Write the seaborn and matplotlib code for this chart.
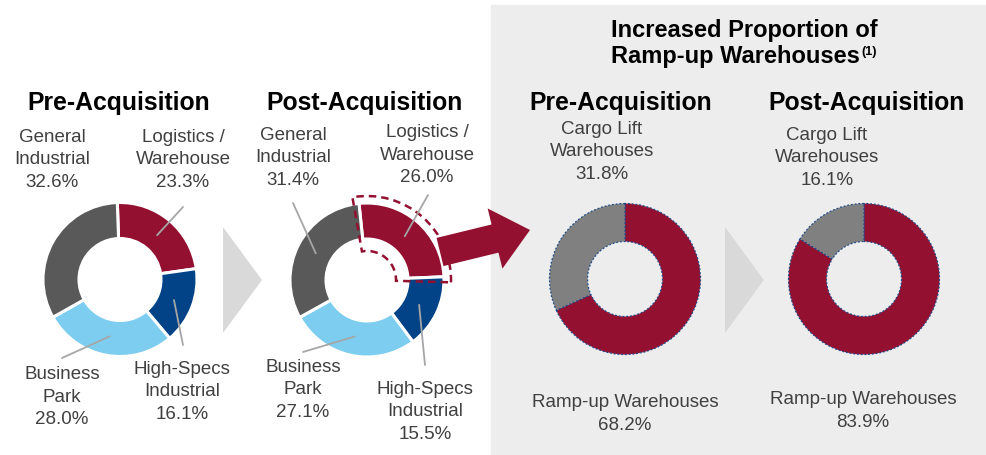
import numpy as np
import matplotlib
matplotlib.use("Agg")
import matplotlib.pyplot as plt
import seaborn as sns
from matplotlib.patches import Rectangle, Polygon, Wedge, FancyArrow

# data
mix_labels = ["Logistics /\nWarehouse", "High-Specs\nIndustrial", "Business\nPark", "General\nIndustrial"]
pre_mix = [23.3, 16.1, 28.0, 32.6]
post_mix = [26.0, 15.5, 27.1, 31.4]
wh_labels = ["Ramp-up Warehouses", "Cargo Lift\nWarehouses"]
pre_wh = [68.2, 31.8]
post_wh = [83.9, 16.1]
titles = ["Pre-Acquisition", "Post-Acquisition", "Pre-Acquisition", "Post-Acquisition"]

sns.set_style("white")
plt.rcParams['font.family'] = ['Liberation Sans', 'DejaVu Sans']

RED = "#941030"
mix_colors = [RED, "#024287", "#7DCDF1", "#595959"]
wh_colors = [RED, "#808080"]
TXT = "#404040"
LEAD = "#A6A6A6"

W, H = 986, 455
fig = plt.figure(figsize=(W / 100, H / 100), dpi=100)
ax = fig.add_axes([0, 0, 1, 1])


def py(y):
    # pixel row (from top) -> data y
    return H - y


# grey panel on the right
ax.add_patch(Rectangle((491, 0), W - 491, py(5), color="#EDEDED", zorder=0))

# chevrons
for x0 in (223, 725):
    ax.add_patch(Polygon([(x0, py(227)), (x0, py(333)), (x0 + 39, py(280))],
                         closed=True, color="#D9D9D9", lw=0, zorder=1))

# headers
ax.text(744, py(30), "Increased Proportion of", ha="center", va="center",
        fontsize=17, fontweight="bold", color="black")
ax.text(860, py(57), "Ramp-up Warehouses", ha="right", va="center",
        fontsize=17, fontweight="bold", color="black")
ax.text(861, py(52), "(1)", ha="left", va="center",
        fontsize=9, fontweight="bold", color="black")

for x, t in zip([119, 365, 621, 867], titles):
    ax.text(x, py(103), t, ha="center", va="center", fontsize=17.8,
            fontweight="bold", color="black")


def leader(wedge, cx, cy, r, end):
    mid = np.deg2rad((wedge.theta1 + wedge.theta2) / 2)
    x0 = cx + 0.75 * r * np.cos(mid)
    y0 = py(cy) + 0.75 * r * np.sin(mid)
    ax.plot([x0, end[0]], [y0, py(end[1])], color=LEAD, lw=1.3, zorder=5)


def label(x, y, txt):
    ax.text(x, py(y), txt, ha="center", va="center", fontsize=13.5,
            color=TXT, multialignment="center", linespacing=1.4)


# segment mix donuts
mix_pies = [
    (pre_mix, 120, 279.5, 92,
     [(183, 160), (182, 392), (62, 397), (52, 160)],
     [(183, 207), (183, 345), (62, 358), None]),
    (post_mix, 367, 280, 96,
     [(427, 155), (425, 412), (303, 390), (293, 158)],
     [(428, 195), (425, 365), (303, 352), (293, 203)]),
]
R = 77
for vals, cx, cy, start, lpos, lends in mix_pies:
    wedges, _ = ax.pie(vals, colors=mix_colors, startangle=start, counterclock=False,
                       center=(cx, py(cy)), radius=R, frame=True,
                       wedgeprops=dict(width=36, edgecolor="white", linewidth=2.2))
    for w, name, v, pos, end in zip(wedges, mix_labels, vals, lpos, lends):
        label(pos[0], pos[1], f"{name}\n{v:.1f}%")
        if end is not None:
            leader(w, cx, cy, R, end)

# dashed highlight around the post-acquisition logistics slice
t2 = 96 + 4
t1 = 96 - post_mix[0] / 100 * 360 - 4
ax.add_patch(Wedge((367, py(280)), 84, t1, t2, width=55, fill=False,
                   edgecolor=RED, lw=1.8, linestyle=(0, (3, 2)), zorder=4))

# big arrow
ax.add_patch(FancyArrow(440, py(252), 90, 22, width=29, head_width=62,
                        head_length=36, length_includes_head=True,
                        color=RED, lw=0, zorder=3))

# warehouse donuts
wh_pies = [
    (pre_wh, 625, 279, [(625, 414), (602, 152)]),
    (post_wh, 864, 279, [(863, 411), (827, 158)]),
]
for vals, cx, cy, lpos in wh_pies:
    ax.pie(vals, colors=wh_colors, startangle=90, counterclock=False,
           center=(cx, py(cy)), radius=75.5, frame=True,
           wedgeprops=dict(width=38, edgecolor="#1F4E8C", linewidth=0.9,
                           linestyle=(0, (1.5, 1.5))))
    for name, v, pos in zip(wh_labels, vals, lpos):
        label(pos[0], pos[1], f"{name}\n{v:.1f}%")

ax.set_xlim(0, W)
ax.set_ylim(0, H)
ax.set_aspect("equal")
ax.axis("off")

fig.savefig("out.png", dpi=100, facecolor="white")
